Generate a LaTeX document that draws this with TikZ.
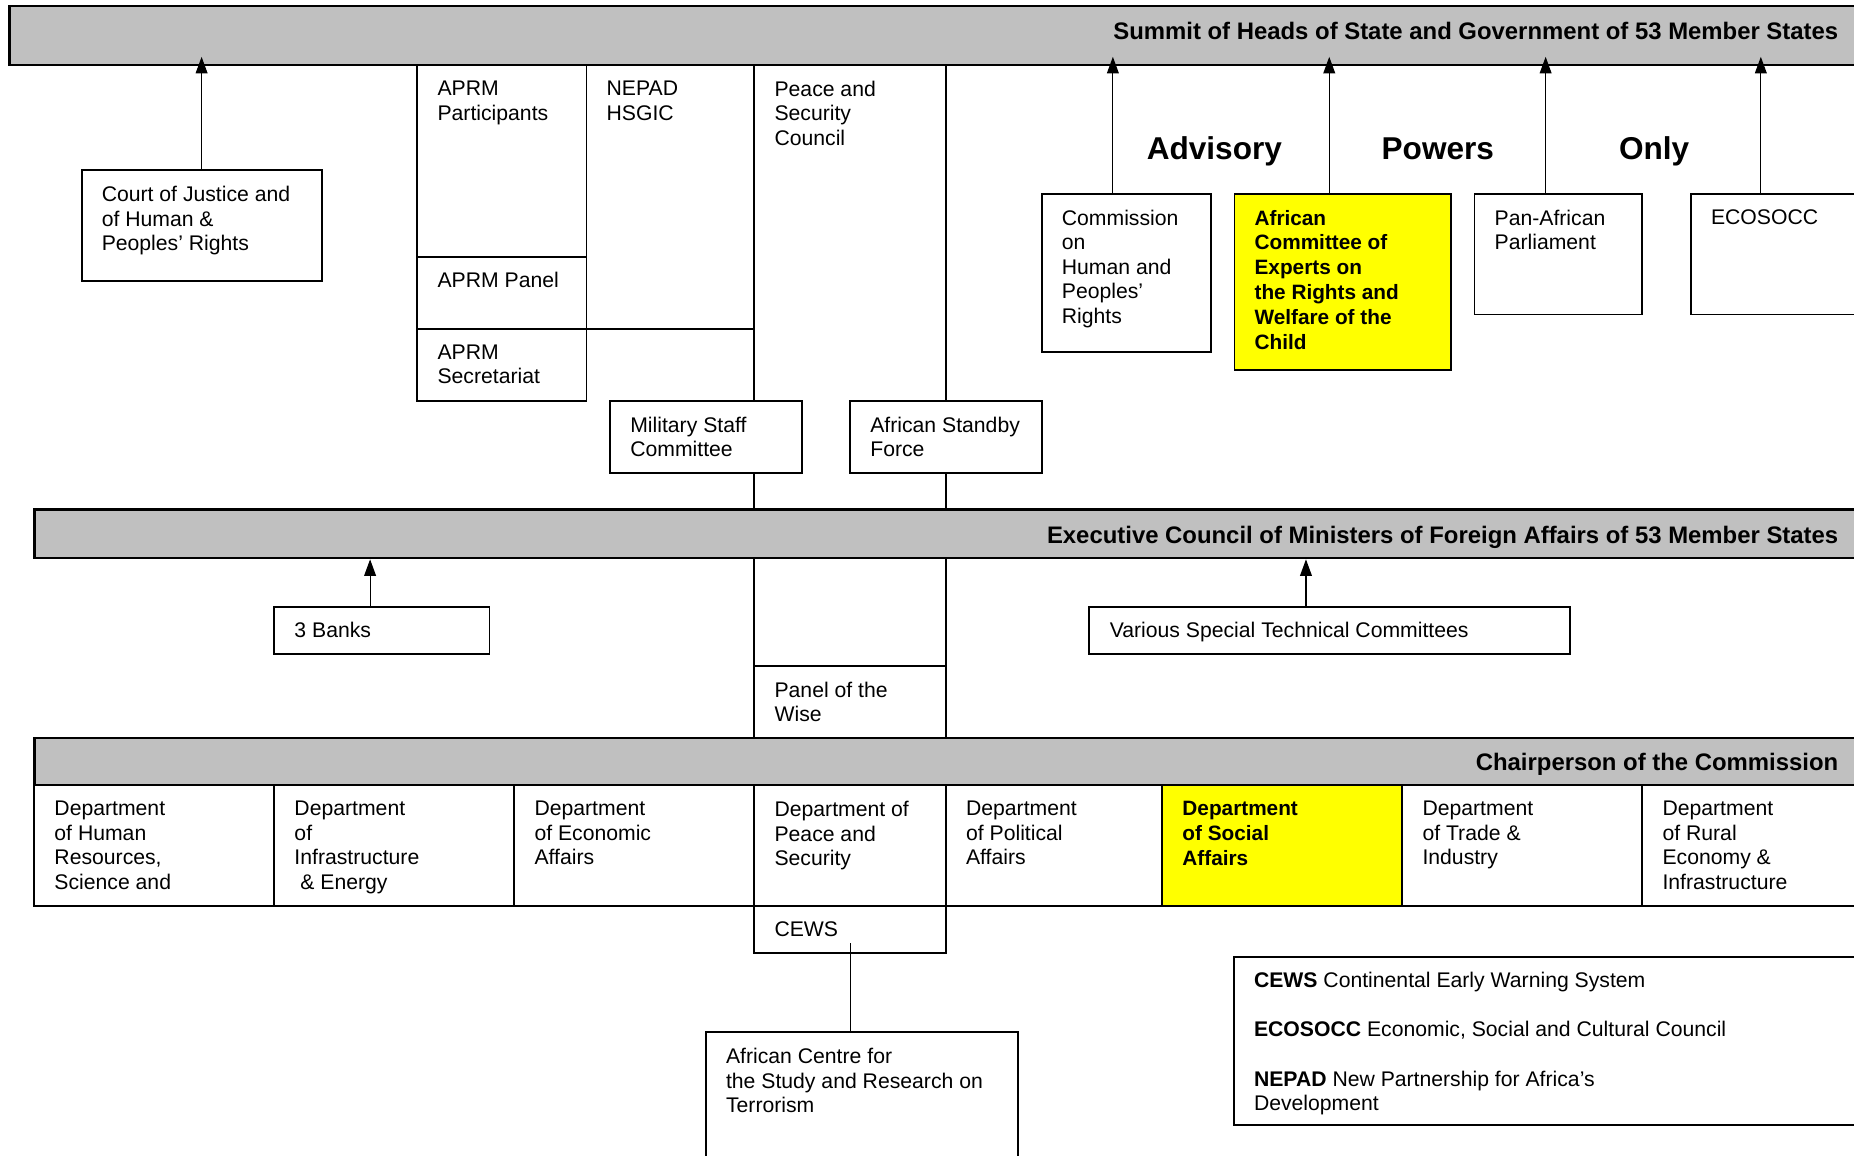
\documentclass[tikz,border=0pt]{standalone}
\usepackage{fontspec}
\setmainfont{Liberation Sans}
\usetikzlibrary{fit,arrows.meta}
\definecolor{barfill}{HTML}{C0C0C0}
\definecolor{markyellow}{HTML}{FFFF00}

\begin{document}
\begin{tikzpicture}[x=0.02cm,y=-0.02cm,
    font=\fontsize{10.2}{11.8}\selectfont,
    >={Triangle[length=0.28cm,width=0.2cm]},
    box/.style={draw,line width=0.9pt,fill=white,inner sep=0pt},
    bar/.style={draw,line width=1.2pt,fill=barfill,inner sep=0pt},
    boxtext/.style={anchor=north west,align=left,inner sep=0pt},
    bartitle/.style={anchor=base east,inner sep=0pt,
        font=\fontsize{11.5}{13}\selectfont\bfseries},
    powers/.style={anchor=base,inner sep=0pt,
        font=\fontsize{15.2}{18}\selectfont\bfseries},
    link/.style={->,line width=0.55pt}]
    \useasboundingbox (0,0) rectangle (1568,977);
    \clip (0,0) rectangle (1568,977);

    % Peace and Security column, behind the bars.
    \node[box,fill=none,fit={(638,55) (800,624)}] (psc) {};
    \node[boxtext] (psc-text) at ([shift={(17.5,14)}]psc.north west)
        {Peace and\\Security\\Council};

    % The three bars.
    \node[bar,fit={(8,5) (1590,55)}] (summit) {};
    \node[bartitle] (summit-title) at (1555,33.5)
        {Summit of Heads of State and Government of 53 Member States};
    \node[bar,fit={(29,431) (1590,472)}] (exec) {};
    \node[bartitle] (exec-title) at (1555,459.5)
        {Executive Council of Ministers of Foreign Affairs of 53 Member States};
    \node[bar,fit={(29,624) (1590,664)}] (chair) {};
    \node[bartitle] (chair-title) at (1555,651.5)
        {Chairperson of the Commission};

    % Under the Summit, left.
    \node[box,fit={(69,144) (272,238)}] (court) {};
    \node[boxtext] (court-text) at ([shift={(17.5,14)}]court.north west)
        {Court of Justice and\\of Human \&\\Peoples' Rights};
    \draw[link] (court.north) -- ([yshift=0.16cm]court.north |- summit.south);

    \node[box,fit={(353,55) (496,217)}] (aprm-part) {};
    \node[boxtext] (aprm-part-text) at ([shift={(17.5,14)}]aprm-part.north west)
        {APRM\\Participants};
    \node[box,fit={(353,217) (496,278)}] (aprm-panel) {};
    \node[boxtext] (aprm-panel-text) at ([shift={(17.5,14)}]aprm-panel.north west)
        {APRM Panel};
    \node[box,fit={(353,278) (496,339)}] (aprm-sec) {};
    \node[boxtext] (aprm-sec-text) at ([shift={(17.5,14)}]aprm-sec.north west)
        {APRM\\Secretariat};
    \node[box,fit={(496,55) (638,278)}] (nepad) {};
    \node[boxtext] (nepad-text) at ([shift={(17.5,14)}]nepad.north west)
        {NEPAD\\HSGIC};

    \node[box,fit={(516,339) (678,400)}] (msc) {};
    \node[boxtext] (msc-text) at ([shift={(17.5,14)}]msc.north west)
        {Military Staff\\Committee};
    \node[box,fit={(719,339) (881,400)}] (asf) {};
    \node[boxtext] (asf-text) at ([shift={(17.5,14)}]asf.north west)
        {African Standby\\Force};

    % Under the Summit, right.
    \node[powers] (advisory) at (1027,135) {Advisory};
    \node[powers] (powers-word) at (1216,135) {Powers};
    \node[powers] (only) at (1399,135) {Only};

    \node[box,fit={(881,164) (1024,298)}] (achpr) {};
    \node[boxtext] (achpr-text) at ([shift={(17.5,14)}]achpr.north west)
        {Commission\\on\\Human and\\Peoples'\\Rights};
    \node[box,fill=markyellow,fit={(1044,164) (1227,313)}] (acerwc) {};
    \node[boxtext,font=\bfseries] (acerwc-text) at ([shift={(17.5,14)}]acerwc.north west)
        {African\\Committee of\\Experts on\\the Rights and\\Welfare of the\\Child};
    \node[box,fit={(1247,164) (1389,266)}] (pap) {};
    \node[boxtext] (pap-text) at ([shift={(17.5,14)}]pap.north west)
        {Pan-African\\Parliament};
    \node[box,fit={(1430,164) (1600,266)}] (ecosocc) {};
    \node[boxtext] (ecosocc-text) at ([shift={(17.5,14)}]ecosocc.north west)
        {ECOSOCC};

    \draw[link] ([xshift=1.22cm]achpr.north west) coordinate (achpr-a)
        -- ([yshift=0.16cm]achpr-a |- summit.south);
    \draw[link] ([xshift=1.62cm]acerwc.north west) coordinate (acerwc-a)
        -- ([yshift=0.16cm]acerwc-a |- summit.south);
    \draw[link] ([xshift=1.22cm]pap.north west) coordinate (pap-a)
        -- ([yshift=0.16cm]pap-a |- summit.south);
    \draw[link] ([xshift=1.20cm]ecosocc.north west) coordinate (ecosocc-a)
        -- ([yshift=0.16cm]ecosocc-a |- summit.south);

    % Under the Executive Council.
    \node[box,fit={(232,513) (414,553)}] (banks) {};
    \node[boxtext] (banks-text) at ([shift={(17.5,14)}]banks.north west)
        {3 Banks};
    \draw[link] ([xshift=-0.2cm]banks.north) coordinate (banks-a)
        -- (banks-a |- exec.south);
    \node[box,fit={(921,513) (1328,553)}] (stc) {};
    \node[boxtext] (stc-text) at ([shift={(18,14)}]stc.north west)
        {Various Special Technical Committees};
    \draw[link] ([xshift=-0.4cm]stc.north) coordinate (stc-a)
        -- (stc-a |- exec.south);

    \node[box,fit={(638,563) (800,624)}] (wise) {};
    \node[boxtext] (wise-text) at ([shift={(17.5,14)}]wise.north west)
        {Panel of the\\Wise};

    % Departments of the Commission.
    \node[box,fit={(29,664) (232,766)}] (dep-hr) {};
    \node[boxtext] at ([shift={(17.5,14)}]dep-hr.north west)
        {Department\\of Human\\Resources,\\Science and};
    \node[box,fit={(232,664) (435,766)}] (dep-ie) {};
    \node[boxtext] at ([shift={(17.5,14)}]dep-ie.north west)
        {Department\\of\\Infrastructure\\\hspace*{0.28em}\& Energy};
    \node[box,fit={(435,664) (638,766)}] (dep-ea) {};
    \node[boxtext] at ([shift={(17.5,14)}]dep-ea.north west)
        {Department\\of Economic\\Affairs};
    \node[box,fit={(638,664) (800,766)}] (dep-ps) {};
    \node[boxtext] at ([shift={(17.5,14)}]dep-ps.north west)
        {Department of\\Peace and\\Security};
    \node[box,fit={(800,664) (983,766)}] (dep-pa) {};
    \node[boxtext] at ([shift={(17.5,14)}]dep-pa.north west)
        {Department\\of Political\\Affairs};
    \node[box,fill=markyellow,fit={(983,664) (1186,766)}] (dep-sa) {};
    \node[boxtext,font=\bfseries] at ([shift={(17.5,14)}]dep-sa.north west)
        {Department\\of Social\\Affairs};
    \node[box,fit={(1186,664) (1389,766)}] (dep-ti) {};
    \node[boxtext] at ([shift={(17.5,14)}]dep-ti.north west)
        {Department\\of Trade \&\\Industry};
    \node[box,fit={(1389,664) (1600,766)}] (dep-re) {};
    \node[boxtext] at ([shift={(17.5,14)}]dep-re.north west)
        {Department\\of Rural\\Economy \&\\Infrastructure};

    \node[box,fit={(638,766) (800,806)}] (cews) {};
    \node[boxtext] (cews-text) at ([shift={(17.5,14)}]cews.north west)
        {CEWS};
    \node[box,fit={(597,873) (861,1000)}] (acsrt) {};
    \node[boxtext] (acsrt-text) at ([shift={(17.5,14)}]acsrt.north west)
        {African Centre for\\the Study and Research on\\Terrorism};
    \draw[line width=0.55pt] ([yshift=0.18cm]cews.south)
        -- (cews.south |- acsrt.north);

    % Legend.
    \node[box,fit={(1043.5,809.5) (1600,951.5)}] (legend) {};
    \node[boxtext] (legend-text) at ([shift={(17.5,13.5)}]legend.north west)
        {\textbf{CEWS} Continental Early Warning System\\[11.8pt]
         \textbf{ECOSOCC} Economic, Social and Cultural Council\\[11.8pt]
         \textbf{NEPAD} New Partnership for Africa's\\Development};
\end{tikzpicture}
\end{document}
